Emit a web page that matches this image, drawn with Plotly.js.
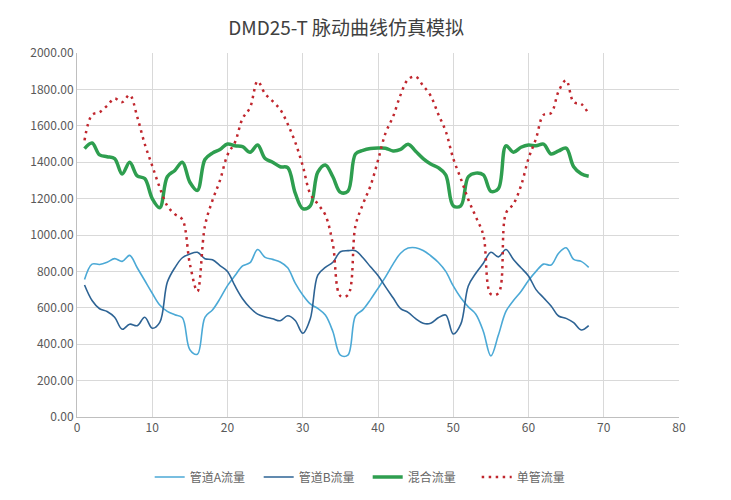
<!DOCTYPE html>
<html><head><meta charset="utf-8">
<script src="https://cdn.plot.ly/plotly-3.0.1.min.js"></script>
<style>html,body{margin:0;padding:0;background:#fff}#chart{width:731px;height:500px}</style>
</head><body><div id="chart"></div>
<script>
const xValues = [];
for (let i = 1; i <= 68; i++) xValues.push(i);

const pipeA = [755,840,838,850,870,855,888,820,750,680,615,580,562,545,370,345,548,588,650,722,
  777,830,848,920,877,866,852,820,735,670,621,597,560,470,340,340,555,590,645,707,
  770,840,900,928,930,915,886,850,800,720,655,605,565,470,335,450,580,640,690,750,
  800,840,835,900,930,866,855,822];

const pipeB = [725,640,595,580,548,482,510,502,548,488,520,740,820,875,896,905,870,864,832,800,
  720,650,600,565,550,540,529,556,530,460,540,780,822,850,908,914,914,875,825,777,
  715,655,595,575,540,515,515,545,560,456,510,720,790,845,905,880,920,865,820,775,
  700,655,610,555,542,518,478,502];

const mixed = [1475,1505,1440,1430,1420,1335,1400,1325,1310,1200,1150,1320,1355,1400,1290,1245,1415,1450,1470,1500,
  1490,1485,1455,1495,1420,1400,1375,1370,1230,1145,1160,1345,1385,1320,1235,1240,1445,1465,1475,1478,
  1477,1462,1470,1499,1460,1420,1390,1370,1330,1160,1160,1320,1340,1330,1240,1255,1490,1455,1482,1495,
  1490,1499,1445,1462,1477,1375,1336,1323];

const single = [1520,1660,1675,1710,1750,1730,1770,1650,1500,1380,1260,1160,1115,1085,840,690,1050,1190,1300,1440,
  1510,1640,1700,1845,1775,1735,1690,1610,1510,1380,1226,1170,1110,950,665,670,1050,1170,1270,1410,
  1560,1650,1770,1855,1870,1820,1765,1665,1570,1420,1310,1195,1100,1000,675,680,1120,1170,1270,1420,
  1530,1660,1670,1790,1850,1730,1720,1665];

const seriesNames = ['管道A流量','管道B流量','混合流量','单管流量'];
const titleText = 'DMD25-T 脉动曲线仿真模拟';

const font = '"Noto Sans CJK SC", "Noto Sans", sans-serif';

const traces = [
  {x: xValues, y: pipeA, name: seriesNames[0], mode: 'lines',
   line: {color: '#4BA9D6', width: 1.6, shape: 'spline', smoothing: 1}},
  {x: xValues, y: pipeB, name: seriesNames[1], mode: 'lines',
   line: {color: '#2D6394', width: 1.6, shape: 'spline', smoothing: 1}},
  {x: xValues, y: mixed, name: seriesNames[2], mode: 'lines',
   line: {color: '#2E9E4F', width: 3.5, shape: 'spline', smoothing: 1}},
  {x: xValues, y: single, name: seriesNames[3], mode: 'lines',
   line: {color: '#C0262D', width: 2.5, shape: 'spline', smoothing: 1, dash: '2.5px,4.5px'}}
];

const layout = {
  width: 731, height: 500,
  margin: {l: 77, r: 52, t: 53, b: 83},
  paper_bgcolor: '#fff', plot_bgcolor: '#fff',
  font: {family: font, color: '#595959', size: 12},
  title: {text: titleText, x: 0.447, xref: 'paper', xanchor: 'center', y: 0.943, yanchor: 'middle',
          font: {family: font, size: 19, color: '#404040'}},
  showlegend: true,
  legend: {orientation: 'h', xref: 'container', x: 0.503, xanchor: 'center',
           yref: 'container', y: 0.046, yanchor: 'middle',
           entrywidth: 64, entrywidthmode: 'pixels',
           font: {family: font, size: 12, color: '#666666'}, traceorder: 'normal'},
  xaxis: {range: [0, 80], dtick: 10, tick0: 0, showgrid: true, gridcolor: '#D9D9D9', gridwidth: 1,
          showline: true, linecolor: '#BFBFBF', linewidth: 1, zeroline: false, ticks: '',
          tickfont: {family: font, size: 12, color: '#595959'}, fixedrange: true, automargin: false},
  yaxis: {range: [0, 2000], dtick: 200, tick0: 0, tickformat: '.2f', showgrid: true, gridcolor: '#D9D9D9',
          gridwidth: 1, showline: true, linecolor: '#BFBFBF', linewidth: 1, zeroline: false, ticks: '',
          tickfont: {family: font, size: 12, color: '#595959'}, fixedrange: true, automargin: false}
};

Plotly.newPlot('chart', traces, layout, {displayModeBar: false, staticPlot: true});
</script></body></html>
